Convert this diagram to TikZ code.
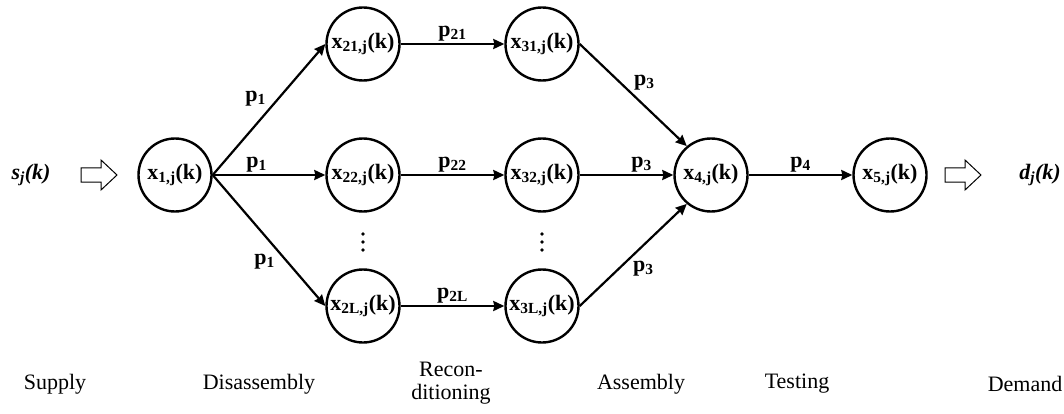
\documentclass[tikz,border=0pt]{standalone}
\usepackage{fontspec}
\setmainfont{Liberation Serif}
\usetikzlibrary{arrows.meta}
\begin{document}
\begin{tikzpicture}[x=1pt,y=-1pt,
  st/.style={circle,draw,line width=2.4pt,minimum size=73pt,inner sep=0pt,font=\fontsize{22}{24}\selectfont\bfseries},
  fl/.style={line width=2.2pt,-{Stealth[length=11pt,width=10pt,inset=1pt]}},
  pl/.style={font=\fontsize{22}{24}\selectfont\bfseries,inner sep=2pt},
  lab/.style={font=\fontsize{22}{23}\selectfont,align=center},
  hol/.style={line width=1pt,line join=miter},
  dt/.style={font=\fontsize{22}{24}\selectfont\bfseries\itshape}]
\useasboundingbox (0,0) rectangle (1064,414);
\node[dt] (s) at (31,175) {s\textsubscript{j}(k)};
\draw[hol] (81,168) -- (101,168) -- (101,160) -- (117,175) -- (101,190) -- (101,182) -- (81,182) -- cycle;
\node[st] (x1) at (175,175) {x\textsubscript{1,j}(k)};
\node[st] (x21) at (363,44) {x\textsubscript{21,j}(k)};
\node[st] (x22) at (363,175) {x\textsubscript{22,j}(k)};
\node[st] (x2L) at (363,306) {x\textsubscript{2L,j}(k)};
\node[st] (x31) at (542,44) {x\textsubscript{31,j}(k)};
\node[st] (x32) at (542,175) {x\textsubscript{32,j}(k)};
\node[st] (x3L) at (542,306) {x\textsubscript{3L,j}(k)};
\node[st] (x4) at (711,175) {x\textsubscript{4,j}(k)};
\node[st] (x5) at (890,175) {x\textsubscript{5,j}(k)};
\draw[hol] (945,168) -- (965,168) -- (965,160) -- (981,175) -- (965,190) -- (965,182) -- (945,182) -- cycle;
\node[dt] (d) at (1040,175) {d\textsubscript{j}(k)};
\draw[fl] (x1.east) -- (x21.west) node[pl,pos=0.5,above left] {p\textsubscript{1}};
\draw[fl] (x1.east) -- (x22.west) node[pl,pos=0.39,above] {p\textsubscript{1}};
\draw[fl] (x1.east) -- (x2L.west) node[pl,pos=0.58,below left] {p\textsubscript{1}};
\draw[fl] (x21) -- (x31) node[pl,midway,above] {p\textsubscript{21}};
\draw[fl] (x22) -- (x32) node[pl,midway,above] {p\textsubscript{22}};
\draw[fl] (x2L) -- (x3L) node[pl,midway,above] {p\textsubscript{2L}};
\draw[fl] (x31.east) -- (x4.130) node[pl,pos=0.48,above right] {p\textsubscript{3}};
\draw[fl] (x32) -- (x4) node[pl,pos=0.66,above] {p\textsubscript{3}};
\draw[fl] (x3L.east) -- (x4.230) node[pl,pos=0.47,below right] {p\textsubscript{3}};
\draw[fl] (x4) -- (x5) node[pl,midway,above] {p\textsubscript{4}};
\foreach \cx in {363,542} \foreach \cy in {234,242,250} \fill (\cx,\cy) circle (1.8pt);
\node[lab] (l1) at (55,384) {Supply};
\node[lab] (l2) at (259,384) {Disassembly};
\node[lab] (l3) at (451,383) {Recon-\\ditioning};
\node[lab] (l4) at (641,384) {Assembly};
\node[lab] (l5) at (797,384) {Testing};
\node[lab] (l6) at (1025,384) {Demand};
\end{tikzpicture}
\end{document}
